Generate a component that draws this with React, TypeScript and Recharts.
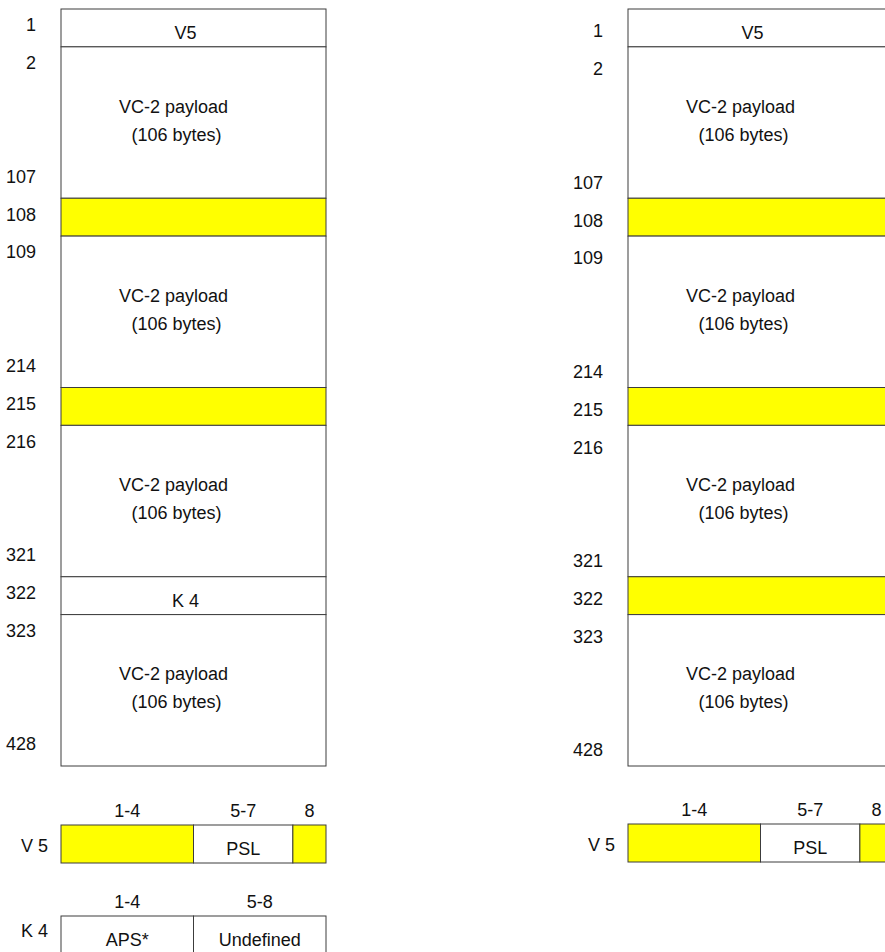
import { BarChart, Bar, XAxis, YAxis } from "recharts"

const YELLOW = "#ffff00"
const LINE = "#3c3c3c"
const INK = "#111"
const FONT = "'Liberation Sans', Arial, sans-serif"

type ByteRow = { first: number; last: number; name?: string; overhead?: boolean }
type BitField = { bits: string; count: number; name?: string; overhead?: boolean }

// VC-2 multiframe, K4 shown as byte 322
const leftFrameRows: ByteRow[] = [
  { first: 1, last: 1, name: "V5" },
  { first: 2, last: 107, name: "VC-2 payload" },
  { first: 108, last: 108, overhead: true },
  { first: 109, last: 214, name: "VC-2 payload" },
  { first: 215, last: 215, overhead: true },
  { first: 216, last: 321, name: "VC-2 payload" },
  { first: 322, last: 322, name: "K 4" },
  { first: 323, last: 428, name: "VC-2 payload" },
]

// same frame with byte 322 as overhead too
const rightFrameRows: ByteRow[] = [
  { first: 1, last: 1, name: "V5" },
  { first: 2, last: 107, name: "VC-2 payload" },
  { first: 108, last: 108, overhead: true },
  { first: 109, last: 214, name: "VC-2 payload" },
  { first: 215, last: 215, overhead: true },
  { first: 216, last: 321, name: "VC-2 payload" },
  { first: 322, last: 322, overhead: true },
  { first: 323, last: 428, name: "VC-2 payload" },
]

const v5Bits: BitField[] = [
  { bits: "1-4", count: 4, overhead: true },
  { bits: "5-7", count: 3, name: "PSL" },
  { bits: "8", count: 1, overhead: true },
]

const k4Bits: BitField[] = [
  { bits: "1-4", count: 4, name: "APS*" },
  { bits: "5-8", count: 4, name: "Undefined" },
]

// diagram is not to scale: single byte = 1 unit, payload block = 4 units
const rowUnits = (r: ByteRow) => (r.first === r.last ? 1 : 4)

const textStyle = { fill: INK, fontSize: 18, fontFamily: FONT }

function RowShape(props: any) {
  const { x, y, width, height, fill, row } = props
  const top = Math.min(y, y + height)
  const h = Math.abs(height)
  const cx = x + width / 2
  const cy = top + h / 2
  const single = row.first === row.last
  return (
    <g>
      <rect x={x} y={top} width={width} height={h} fill={fill} stroke={LINE} strokeWidth={1} />
      {row.name && single && (
        <text x={cx - 8} y={cy + 11} textAnchor="middle" {...textStyle}>
          {row.name}
        </text>
      )}
      {row.name && !single && (
        <>
          <text x={cx - 20} y={cy - 10} textAnchor="middle" {...textStyle}>
            {row.name}
          </text>
          <text x={cx - 17} y={cy + 18} textAnchor="middle" {...textStyle}>
            {`(${row.last - row.first + 1} bytes)`}
          </text>
        </>
      )}
    </g>
  )
}

function BitShape(props: any) {
  const { x, y, width, height, fill, field } = props
  const left = Math.min(x, x + width)
  const w = Math.abs(width)
  const cx = left + w / 2
  const cy = y + height / 2
  return (
    <g>
      <rect x={left} y={y} width={w} height={height} fill={fill} stroke={LINE} strokeWidth={1} />
      <text x={cx} y={y - 8} textAnchor="middle" {...textStyle}>
        {field.bits}
      </text>
      {field.name && (
        <text x={cx} y={cy + 11} textAnchor="middle" {...textStyle}>
          {field.name}
        </text>
      )}
    </g>
  )
}

function FrameChart({ rows, left, tickDy }: { rows: ByteRow[]; left: number; tickDy: number }) {
  const data = [{ frame: "VC-2", ...Object.fromEntries(rows.map((r, i) => [`r${i}`, rowUnits(r)])) }]
  const total = rows.reduce((s, r) => s + rowUnits(r), 0)
  const tickLabels = new Map<number, string>()
  let pos = 0
  rows.forEach((r) => {
    const u = rowUnits(r)
    tickLabels.set(pos + 0.5, String(r.first))
    if (r.last !== r.first) tickLabels.set(pos + u - 0.5, String(r.last))
    pos += u
  })
  const ticks = [...tickLabels.keys()]

  return (
    <div style={{ position: "absolute", left, top: 0 }}>
      <BarChart width={340} height={780} data={data} margin={{ top: 9, right: 14, bottom: 14, left: 0 }} barCategoryGap={0}>
        <XAxis dataKey="frame" hide />
        <YAxis
          type="number"
          domain={[0, total]}
          reversed
          ticks={ticks}
          interval={0}
          width={61}
          axisLine={false}
          tickLine={false}
          tickSize={0}
          tickMargin={25}
          tickFormatter={(v) => tickLabels.get(v) ?? ""}
          tick={{ ...textStyle, dy: tickDy }}
        />
        {rows.map((r, i) => (
          <Bar
            key={i}
            dataKey={`r${i}`}
            stackId="frame"
            isAnimationActive={false}
            fill={r.overhead ? YELLOW : "#ffffff"}
            shape={(p: any) => <RowShape {...p} row={r} />}
          />
        ))}
      </BarChart>
    </div>
  )
}

function BitFieldChart({ label, fields, left, top, tickDy }: { label: string; fields: BitField[]; left: number; top: number; tickDy: number }) {
  const data = [{ field: label, ...Object.fromEntries(fields.map((f, i) => [`b${i}`, f.count])) }]
  return (
    <div style={{ position: "absolute", left, top }}>
      <BarChart layout="vertical" width={340} height={75} data={data} margin={{ top: 30, right: 14, bottom: 7, left: 0 }} barCategoryGap={0}>
        <XAxis type="number" domain={[0, 8]} hide />
        <YAxis
          type="category"
          dataKey="field"
          width={61}
          axisLine={false}
          tickLine={false}
          tickSize={0}
          tickMargin={13}
          tick={{ ...textStyle, dy: tickDy }}
        />
        {fields.map((f, i) => (
          <Bar
            key={i}
            dataKey={`b${i}`}
            stackId="bits"
            isAnimationActive={false}
            fill={f.overhead ? YELLOW : "#ffffff"}
            shape={(p: any) => <BitShape {...p} field={f} />}
          />
        ))}
      </BarChart>
    </div>
  )
}

export default function App() {
  return (
    <div style={{ position: "absolute", left: 0, top: 0, width: 885, height: 952, overflow: "hidden", background: "#fff" }}>
      <FrameChart rows={leftFrameRows} left={0} tickDy={-3} />
      <FrameChart rows={rightFrameRows} left={567} tickDy={3} />
      <BitFieldChart label="V 5" fields={v5Bits} left={0} top={795} tickDy={2} />
      <BitFieldChart label="K 4" fields={k4Bits} left={0} top={886} tickDy={-4} />
      <BitFieldChart label="V 5" fields={v5Bits} left={567} top={794} tickDy={2} />
    </div>
  )
}
